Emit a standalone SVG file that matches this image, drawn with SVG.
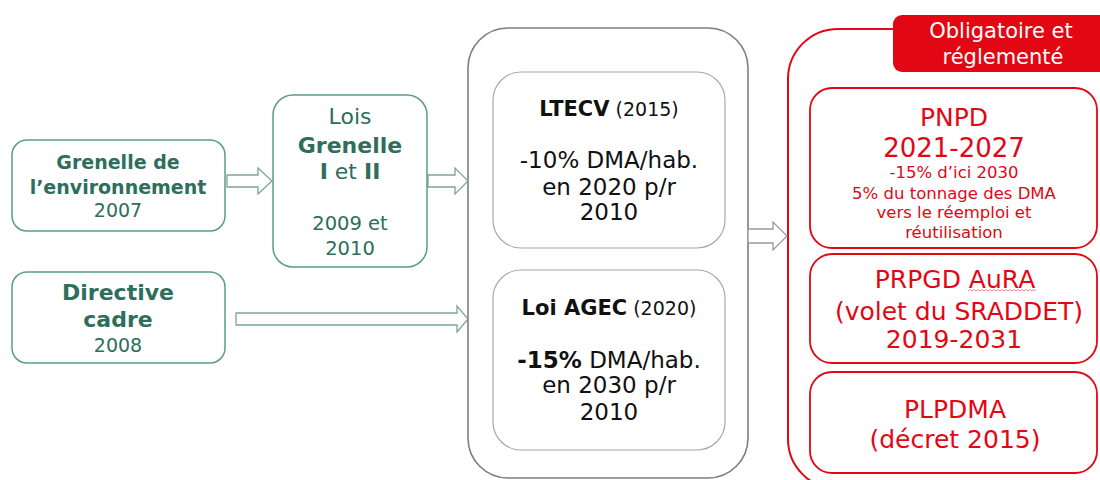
<svg xmlns="http://www.w3.org/2000/svg" width="1100" height="480" viewBox="0 0 1100 480">
<style>
text{font-family:"DejaVu Sans","Verdana",sans-serif;text-anchor:middle}
.gbox{fill:#ffffff;stroke:#5a9e86;stroke-width:1.5}
.gt{fill:#2d6e5c}
.b{font-weight:bold}
.outer{fill:none;stroke:#7d7d7d;stroke-width:1.6}
.inner{fill:#ffffff;stroke:#a8a8a8;stroke-width:1.2}
.kt{fill:#111111}
.rbox{fill:#ffffff;stroke:#e30613;stroke-width:1.8}
.rt{fill:#e30613}
.arr{fill:#ffffff;stroke:#7fa596;stroke-width:1.3;stroke-linejoin:miter}
.arrg{fill:#ffffff;stroke:#9a9a9a;stroke-width:1.3}
</style>
<rect x="0" y="0" width="1100" height="480" fill="#ffffff"/>

<g id="red-frame">
<rect x="788" y="29" width="360" height="460" rx="50" fill="none" stroke="#e30613" stroke-width="2"/>
</g>
<g id="gray-frame">
<rect class="outer" x="468" y="28" width="280" height="450" rx="40"/>
</g>

<g id="connectors">
<path class="arr" d="M227,175 H258 V168 L272,181 L258,194 V187 H227 Z"/>
<path class="arr" d="M428,175 H455 V168 L468,181 L455,194 V187 H428 Z"/>
<path class="arr" d="M236,313 H457 V306 L468,319 L457,332 V325 H236 Z"/>
<path class="arrg" d="M748,229 H773 V222 L787,236 L773,250 V243 H748 Z"/>
</g>

<g id="grenelle-env">
<rect class="gbox" x="12" y="140" width="213" height="91" rx="15"/>
<text class="gt b" x="118" y="169" font-size="19">Grenelle de</text>
<text class="gt b" x="118" y="194" font-size="19">l’environnement</text>
<text class="gt" x="118" y="217" font-size="19">2007</text>
</g>

<g id="directive-cadre">
<rect class="gbox" x="12" y="272" width="213" height="91" rx="15"/>
<text class="gt b" x="118" y="300" font-size="22">Directive</text>
<text class="gt b" x="118" y="327" font-size="22">cadre</text>
<text class="gt" x="118" y="352" font-size="19">2008</text>
</g>

<g id="lois-grenelle">
<rect class="gbox" x="273" y="95" width="154" height="172" rx="20"/>
<text class="gt" x="350" y="124" font-size="22">Lois</text>
<text class="gt b" x="350" y="153" font-size="22">Grenelle</text>
<text class="gt" x="350" y="179" font-size="22"><tspan class="b">I</tspan> et <tspan class="b">II</tspan></text>
<text class="gt" x="350" y="230" font-size="19.5">2009 et</text>
<text class="gt" x="350" y="255" font-size="19.5">2010</text>
</g>

<g id="ltecv">
<rect class="inner" x="493" y="72" width="232" height="176" rx="28"/>
<text class="kt" x="609" y="116" font-size="19"><tspan class="b" font-size="21">LTECV</tspan> (2015)</text>
<text class="kt" x="609" y="168" font-size="23">-10% DMA/hab.</text>
<text class="kt" x="609" y="195" font-size="23">en 2020 p/r</text>
<text class="kt" x="609" y="220" font-size="23">2010</text>
</g>

<g id="loi-agec">
<rect class="inner" x="493" y="270" width="232" height="180" rx="28"/>
<text class="kt" x="609" y="315" font-size="19"><tspan class="b" font-size="21">Loi AGEC</tspan> (2020)</text>
<text class="kt" x="609" y="368" font-size="23"><tspan class="b">-15%</tspan> DMA/hab.</text>
<text class="kt" x="609" y="393" font-size="23">en 2030 p/r</text>
<text class="kt" x="609" y="420" font-size="23">2010</text>
</g>

<g id="label-obligatoire">
<rect x="893" y="15" width="220" height="57" rx="9" fill="#e30613"/>
<text x="1001" y="38" font-size="21" fill="#ffffff">Obligatoire et</text>
<text x="1003" y="64" font-size="21" fill="#ffffff">réglementé</text>
</g>

<g id="pnpd">
<rect class="rbox" x="810" y="88" width="287" height="160" rx="22"/>
<text class="rt" x="954" y="126" font-size="25">PNPD</text>
<text class="rt" x="954" y="157" font-size="26">2021-2027</text>
<text class="rt" x="954" y="178" font-size="16.5">-15% d’ici 2030</text>
<text class="rt" x="954" y="199" font-size="16.5">5% du tonnage des DMA</text>
<text class="rt" x="954" y="218" font-size="16.5">vers le réemploi et</text>
<text class="rt" x="954" y="238" font-size="16.5">réutilisation</text>
</g>

<g id="prpgd">
<rect class="rbox" x="810" y="254" width="287" height="109" rx="22"/>
<text class="rt" x="955" y="288" font-size="25">PRPGD AuRA</text>
<path d="M968,291 l2,-1.5 l2,1.5 l2,-1.5 l2,1.5 l2,-1.5 l2,1.5 l2,-1.5 l2,1.5 l2,-1.5 l2,1.5 l2,-1.5 l2,1.5 l2,-1.5 l2,1.5 l2,-1.5 l2,1.5 l2,-1.5 l2,1.5 l2,-1.5 l2,1.5 l2,-1.5 l2,1.5 l2,-1.5 l2,1.5 l2,-1.5 l2,1.5 l2,-1.5 l2,1.5 l2,-1.5 l2,1.5 l2,-1.5 l2,1.5 l2,-1.5 l2,1.5" fill="none" stroke="#e8707a" stroke-width="0.8"/>
<text class="rt" x="959" y="320" font-size="25">(volet du SRADDET)</text>
<text class="rt" x="954" y="348" font-size="25">2019-2031</text>
</g>

<g id="plpdma">
<rect class="rbox" x="810" y="372" width="287" height="101" rx="22"/>
<text class="rt" x="955" y="418" font-size="25">PLPDMA</text>
<text class="rt" x="955" y="448" font-size="25">(décret 2015)</text>
</g>
</svg>
